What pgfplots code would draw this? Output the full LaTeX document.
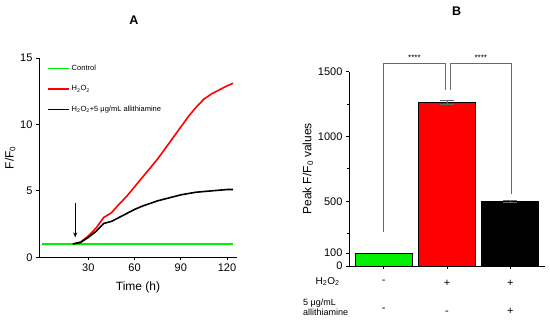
\documentclass[border=0pt]{standalone}
\usepackage{fontspec}
\setmainfont{Liberation Sans}
\usepackage{pgfplots}
\pgfplotsset{compat=1.18}
\usetikzlibrary{arrows.meta}
\definecolor{lgreen}{RGB}{0,240,0}
\definecolor{bgray}{RGB}{105,105,105}
\begin{document}
\begin{tikzpicture}[x=1pt,y=1pt]
\useasboundingbox (0,0) rectangle (550,321);
\pgfplotsset{
  common/.style={
    scale only axis,
    axis x line*=bottom, axis y line*=left,
    axis line style={-, line width=0.8pt},
    tick align=outside, major tick length=3pt, minor tick length=2pt,
    tick style={line width=0.8pt, black},
    ticklabel style={font=\fontsize{11}{13}\selectfont},
    /pgf/number format/assume math mode=true,
    /pgf/number format/1000 sep={},
    label style={font=\fontsize{12}{14}\selectfont},
  }
}
% Panel A
\node[font=\bfseries\fontsize{12.5}{14}\selectfont] at (134,301) {A};
\begin{axis}[common,
  width=198pt, height=199.3pt, at={(39pt,63.7pt)}, anchor=south west,
  xmin=-2, xmax=126.5, ymin=0, ymax=15,
  xtick={30,60,90,120}, ytick={0,5,10,15},
  xlabel={Time (h)}, ylabel={F/F\textsubscript{0}},
  xlabel style={at={(axis description cs:0.5,-0.15)}, anchor=center},
  ylabel style={at={(axis description cs:-0.146,0.5)}, anchor=center},
  legend style={draw=none, fill=none, at={(axis description cs:0.025,0.985)}, anchor=north west,
    font=\fontsize{7.5}{9}\selectfont, row sep=9.5pt},
  legend cell align=left,
  legend image code/.code={\draw[#1] (0pt,0pt) -- (16pt,0pt); \path (0pt,0pt) -- (21pt,0pt);},
]
\addplot[lgreen, line width=1.6pt] coordinates {(0,1) (124,1)};
\addlegendentry{Control}
\addplot[red, line width=1.6pt] coordinates {
(20,1.0) (25,1.15) (30,1.6) (35,2.2) (40,3.0) (45,3.35) (50,4.0) (55,4.6) (60,5.3)
(65,6.0) (70,6.7) (75,7.4) (80,8.2) (85,9.0) (90,9.8) (95,10.6) (100,11.3)
(105,11.9) (110,12.3) (115,12.6) (120,12.9) (124,13.1)};
\addlegendentry{H\textsubscript{2}O\textsubscript{2}}
\addplot[black, line width=1.6pt] coordinates {
(20,1.0) (25,1.12) (30,1.5) (35,1.95) (40,2.55) (45,2.7) (50,3.0) (55,3.3) (60,3.6)
(65,3.85) (70,4.05) (75,4.25) (80,4.4) (85,4.55) (90,4.7) (95,4.8) (100,4.9)
(105,4.95) (110,5.0) (115,5.05) (120,5.1) (124,5.1)};
\addlegendentry{H\textsubscript{2}O\textsubscript{2}+5 μg/mL allithiamine}
\draw[-{Stealth[length=5pt,width=4pt]}, line width=0.8pt] (axis cs:21.5,4.1) -- (axis cs:21.5,1.5);
\end{axis}
% Panel B
\node[font=\bfseries\fontsize{12.5}{14}\selectfont] at (456.7,310) {B};
\begin{axis}[common,
  width=196pt, height=194.3pt, at={(349pt,55pt)}, anchor=south west,
  xmin=-0.55, xmax=2.55, ymin=0, ymax=1500, clip=false,
  ytick={0,100,500,1000,1500}, minor ytick={250,750,1250},
  xtick={0,1,2},
  xticklabels={{-\\[15pt]-},{+\\[15pt]-},{+\\[15pt]+}},
  xticklabel style={align=center, yshift=-8pt},
  ylabel={Peak F/F\textsubscript{0} values},
  ylabel style={at={(axis description cs:-0.209,0.5)}, anchor=center},
]
\addplot[ybar, bar width=57pt, fill=lgreen, draw=black, line width=0.6pt] coordinates {(0,97)};
\addplot[ybar, bar width=57pt, fill=red, draw=black, line width=0.6pt,
  error bars/.cd, y dir=both, y explicit, error bar style={bgray, line width=0.8pt}, error mark options={bgray, line width=0.8pt, mark size=7pt, rotate=90}]
  coordinates {(1,1262) +- (0,17)};
\addplot[ybar, bar width=57pt, fill=black, draw=black, line width=0.6pt,
  error bars/.cd, y dir=both, y explicit, error bar style={bgray, line width=0.8pt}, error mark options={bgray, line width=0.8pt, mark size=7pt, rotate=90}]
  coordinates {(2,500) +- (0,6)};
\addplot[sharp plot, bgray, line width=0.9pt, no marks] coordinates {(0,259) (0,1560) (0.97,1560) (0.97,1362)};
\addplot[sharp plot, bgray, line width=0.9pt, no marks] coordinates {(1.05,1362) (1.05,1560) (2.02,1560) (2.02,559)};
\node[font=\fontsize{8}{9}\selectfont, anchor=south] at (axis cs:0.485,1560) {****};
\node[font=\fontsize{8}{9}\selectfont, anchor=south] at (axis cs:1.535,1560) {****};
\end{axis}
\node[anchor=east, font=\fontsize{10}{12}\selectfont] at (343,39.3) {H\textsubscript{2}O\textsubscript{2}};
\node[anchor=west, align=left, font=\fontsize{9}{10}\selectfont, inner sep=0pt] at (303,13.5) {5 μg/mL\\allithiamine};
\end{tikzpicture}
\end{document}
